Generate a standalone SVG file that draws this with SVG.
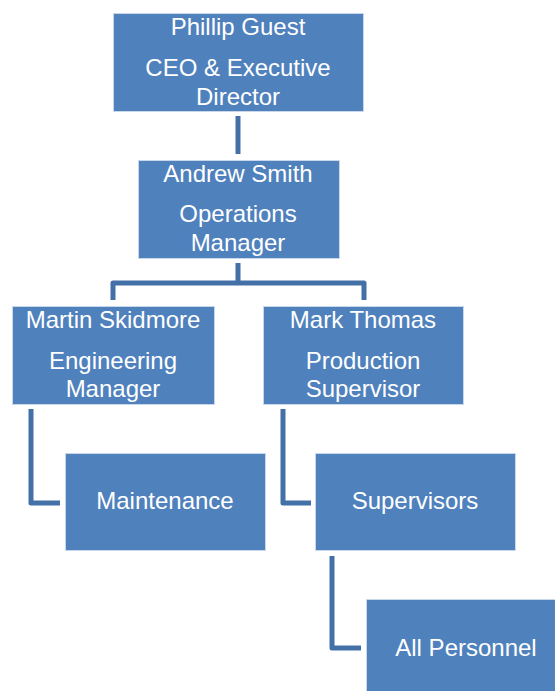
<svg xmlns="http://www.w3.org/2000/svg" width="555" height="691" viewBox="0 0 555 691">
<style>
.box{fill:#4F81BD;stroke:#C9D7EA;stroke-width:1}
.t{font-family:"Liberation Sans",Arial,sans-serif;font-size:24px;fill:#FFFFFF;text-anchor:middle}
.c{fill:none;stroke:#4470A8;stroke-width:5;stroke-linejoin:round;stroke-linecap:butt}
</style>
<rect width="555" height="691" fill="#FFFFFF"/>
<g id="connectors">
<path class="c" d="M238,116 V154"/>
<path class="c" d="M238,263 V283 M113,300 V283 H364 V300"/>
<path class="c" d="M31,409 V503 H60"/>
<path class="c" d="M283,409 V503 H311"/>
<path class="c" d="M332,556 V648 H361"/>
</g>
<g id="phillip">
<rect class="box" x="113.5" y="13.5" width="250" height="98"/>
<text class="t" x="238" y="35">Phillip Guest</text>
<text class="t" x="238" y="76">CEO &amp; Executive</text>
<text class="t" x="238" y="105">Director</text>
</g>
<g id="andrew">
<rect class="box" x="138.5" y="160.5" width="201" height="98"/>
<text class="t" x="238" y="182">Andrew Smith</text>
<text class="t" x="238" y="222">Operations</text>
<text class="t" x="238" y="251">Manager</text>
</g>
<g id="martin">
<rect class="box" x="12.5" y="306.5" width="202" height="98"/>
<text class="t" x="113" y="328">Martin Skidmore</text>
<text class="t" x="113" y="369">Engineering</text>
<text class="t" x="113" y="397">Manager</text>
</g>
<g id="mark">
<rect class="box" x="263.5" y="306.5" width="200" height="98"/>
<text class="t" x="363" y="328">Mark Thomas</text>
<text class="t" x="363" y="369">Production</text>
<text class="t" x="363" y="397">Supervisor</text>
</g>
<g id="maintenance">
<rect class="box" x="65.5" y="453.5" width="200" height="97"/>
<text class="t" x="165" y="509">Maintenance</text>
</g>
<g id="supervisors">
<rect class="box" x="315.5" y="453.5" width="200" height="97"/>
<text class="t" x="415" y="509">Supervisors</text>
</g>
<g id="allpersonnel">
<rect class="box" x="366.5" y="599.5" width="200" height="97"/>
<text class="t" x="466" y="656">All Personnel</text>
</g>
</svg>
